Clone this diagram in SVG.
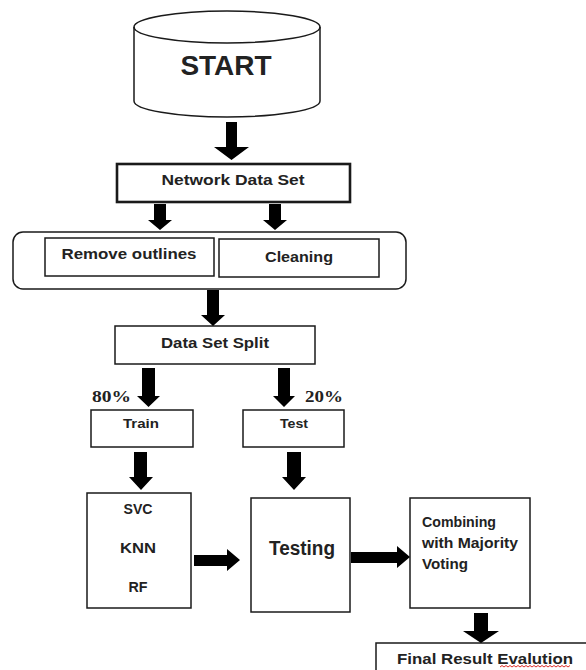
<svg xmlns="http://www.w3.org/2000/svg" width="586" height="670" viewBox="0 0 586 670">
<style>
.box{fill:#fff;stroke:#1a1a1a;stroke-width:1.5}
.thick{stroke-width:2.6}
.t{font-family:"Liberation Sans",Arial,sans-serif;font-weight:bold;fill:#222;text-anchor:middle}
.tl{font-family:"Liberation Sans",Arial,sans-serif;font-weight:bold;fill:#222}
.pct{font-family:"Liberation Serif","Times New Roman",serif;font-weight:bold;fill:#222;font-size:16px}
.arr{fill:#000}
</style>
<rect width="586" height="670" fill="#fff"/>
<g id="start">
<path class="box" d="M134,27 A93,16 0 0 1 320,27 L320,101 A93,16 0 0 1 134,101 Z"/>
<path d="M134,27 A93,16 0 0 0 320,27" fill="none" stroke="#1a1a1a" stroke-width="1.5"/>
<text class="t" x="226" y="75" font-size="28">START</text>
</g>
<g id="network">
<rect class="box thick" x="117" y="164" width="233" height="38"/>
<text class="t" x="233" y="185" font-size="15" textLength="143" lengthAdjust="spacingAndGlyphs">Network Data Set</text>
</g>
<g id="preprocess">
<rect class="box" x="13" y="232" width="393" height="57" rx="10"/>
<g id="remove">
<rect class="box" x="45" y="238" width="169" height="38"/>
<text class="t" x="129" y="259" font-size="14" textLength="135" lengthAdjust="spacingAndGlyphs">Remove outlines</text>
</g>
<g id="cleaning">
<rect class="box" x="219" y="239" width="160" height="38"/>
<text class="t" x="299" y="262" font-size="14" textLength="68" lengthAdjust="spacingAndGlyphs">Cleaning</text>
</g>
</g>
<g id="split">
<rect class="box" x="115" y="326" width="200" height="38"/>
<text class="t" x="215" y="348" font-size="14" textLength="108" lengthAdjust="spacingAndGlyphs">Data Set Split</text>
</g>
<g id="train">
<rect class="box" x="91" y="410" width="102" height="37"/>
<text class="t" x="141" y="428" font-size="13" textLength="36" lengthAdjust="spacingAndGlyphs">Train</text>
</g>
<g id="test">
<rect class="box" x="243" y="410" width="101" height="37"/>
<text class="t" x="294" y="428" font-size="13" textLength="28" lengthAdjust="spacingAndGlyphs">Test</text>
</g>
<g id="models">
<rect class="box" x="87" y="493" width="104" height="115"/>
<text class="t" x="138" y="514" font-size="14" textLength="29" lengthAdjust="spacingAndGlyphs">SVC</text>
<text class="t" x="138" y="553" font-size="14" textLength="36" lengthAdjust="spacingAndGlyphs">KNN</text>
<text class="t" x="138" y="592" font-size="14" textLength="19" lengthAdjust="spacingAndGlyphs">RF</text>
</g>
<g id="testing">
<rect class="box" x="251" y="498" width="99" height="114"/>
<text class="t" x="302" y="555" font-size="20" textLength="66" lengthAdjust="spacingAndGlyphs">Testing</text>
</g>
<g id="combining">
<rect class="box" x="410" y="498" width="120" height="110"/>
<text class="tl" x="422" y="527" font-size="14" textLength="74" lengthAdjust="spacingAndGlyphs">Combining</text>
<text class="tl" x="422" y="548" font-size="14" textLength="96" lengthAdjust="spacingAndGlyphs">with Majority</text>
<text class="tl" x="422" y="569" font-size="14" textLength="46" lengthAdjust="spacingAndGlyphs">Voting</text>
</g>
<g id="final">
<rect class="box" x="376" y="643" width="240" height="40"/>
<text class="tl" x="397" y="664" font-size="15" textLength="176" lengthAdjust="spacingAndGlyphs">Final Result Evalution</text>
<path d="M500,667 l2,-1.5 l2,1.5 l2,-1.5 l2,1.5 l2,-1.5 l2,1.5 l2,-1.5 l2,1.5 l2,-1.5 l2,1.5 l2,-1.5 l2,1.5 l2,-1.5 l2,1.5 l2,-1.5 l2,1.5 l2,-1.5 l2,1.5 l2,-1.5 l2,1.5 l2,-1.5 l2,1.5 l2,-1.5 l2,1.5 l2,-1.5 l2,1.5 l2,-1.5 l2,1.5 l2,-1.5 l2,1.5 l2,-1.5 l2,1.5 l2,-1.5 l2,1.5 l2,-1.5" fill="none" stroke="#e0302a" stroke-width="1"/>
</g>
<g id="labels">
<text class="pct" x="92" y="402" textLength="39" lengthAdjust="spacingAndGlyphs">80%</text>
<text class="pct" x="305" y="402" textLength="38" lengthAdjust="spacingAndGlyphs">20%</text>
</g>
<g id="connectors">
<polygon class="arr" points="226,122 237,122 237,147 249,147 231.5,160 214,147 226,147"/>
<polygon class="arr" points="154,204 166,204 166,220 172,220 160,230 148,220 154,220"/>
<polygon class="arr" points="269,204 281,204 281,220 287,220 275,230 263,220 269,220"/>
<polygon class="arr" points="207,290 219,290 219,315 225,315 213,326 201,315 207,315"/>
<polygon class="arr" points="142,368 155,368 155,396 160,396 148.5,407 137,396 142,396"/>
<polygon class="arr" points="278,368 290,368 290,396 295,396 284,407 273,396 278,396"/>
<polygon class="arr" points="134,452 147,452 147,477 153,477 141,490 129,477 134,477"/>
<polygon class="arr" points="287,452 301,452 301,477 306,477 294,490 282,477 287,477"/>
<polygon class="arr" points="194,555 227,555 227,549 240,560 227,571 227,566 194,566"/>
<polygon class="arr" points="351,552 397,552 397,546 410,557 397,568 397,563 351,563"/>
<polygon class="arr" points="474,613 488,613 488,631 499,631 481,643 463,631 474,631"/>
</g>
</svg>
